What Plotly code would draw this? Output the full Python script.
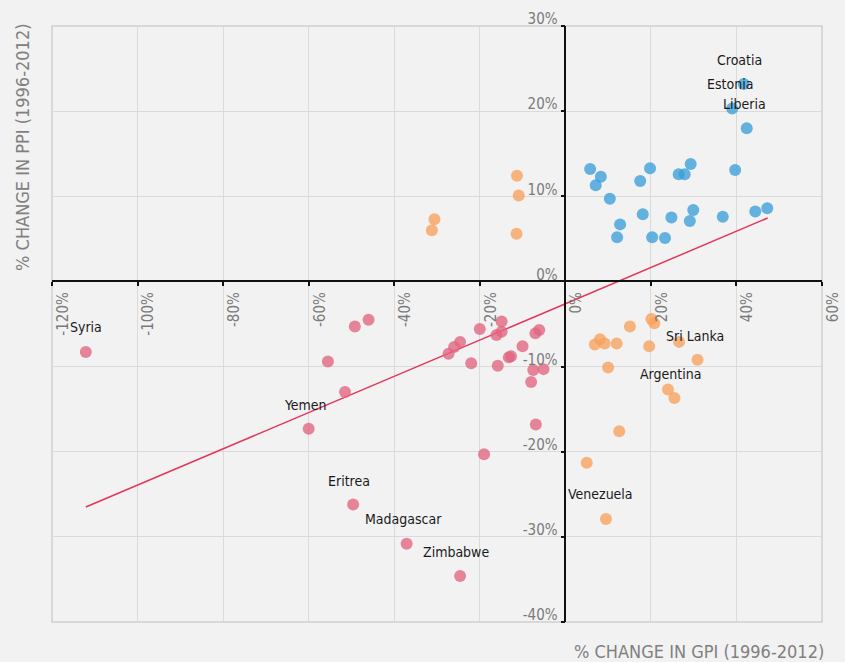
import plotly.graph_objects as go

# % change in GPI (x) vs % change in PPI (y), 1996-2012
blue_x = [41.7, 39.0, 42.4, 5.8, 8.3, 7.1, 10.4, 17.5, 19.8, 26.5, 27.9, 29.3, 39.7,
          12.8, 18.1, 24.8, 29.1, 29.9, 36.8, 44.4, 47.2, 12.1, 20.3, 23.3]
blue_y = [23.2, 20.3, 18.0, 13.2, 12.3, 11.3, 9.7, 11.8, 13.3, 12.6, 12.6, 13.8, 13.1,
          6.7, 7.9, 7.5, 7.1, 8.4, 7.6, 8.2, 8.6, 5.2, 5.2, 5.1]

orange_x = [-11.3, -10.9, -11.4, -30.6, -31.2,
            20.1, 20.8, 15.1, 8.1, 6.9, 9.2, 12.0, 19.6, 26.6, 30.9, 10.0,
            24.0, 25.5, 12.6, 5.0, 9.5]
orange_y = [12.4, 10.1, 5.6, 7.3, 6.0,
            -4.4, -4.9, -5.3, -6.8, -7.4, -7.3, -7.3, -7.6, -7.1, -9.2, -10.1,
            -12.7, -13.7, -17.6, -21.3, -27.9]

red_x = [-112.1, -49.2, -46.0, -55.5, -51.5, -60.0, -49.6, -37.1, -24.6, -19.0,
         -20.0, -24.6, -26.0, -27.3, -22.0, -14.9, -14.9, -16.1, -15.8, -10.0,
         -13.2, -12.7, -7.0, -6.1, -7.5, -5.1, -8.0, -6.9]
red_y = [-8.3, -5.3, -4.5, -9.4, -13.0, -17.3, -26.2, -30.8, -34.6, -20.3,
         -5.6, -7.1, -7.7, -8.5, -9.6, -4.7, -5.9, -6.3, -9.9, -7.6,
         -8.9, -8.8, -6.1, -5.7, -10.4, -10.3, -11.8, -16.8]

trend_x = [-112.1, 47.3]
trend_y = [-26.5, 7.45]

label_names = ["Croatia", "Estonia", "Liberia", "Sri Lanka", "Argentina", "Venezuela",
               "Yemen", "Eritrea", "Madagascar", "Zimbabwe", "Syria"]
label_x = [40.8, 38.4, 41.8, 30.4, 24.5, 8.3, -60.7, -50.5, -37.9, -25.6, -112.1]
label_y = [26.0, 23.2, 20.8, -6.4, -10.9, -25.0, -14.5, -23.4, -27.9, -31.8, -5.4]

x_ticks = [-120, -100, -80, -60, -40, -20, 0, 20, 40, 60]
x_ticktext = ["-120%", "-100%", "-80%", "-60%", "-40%", "-20%", "0%", "20%", "40%", "60%"]
y_ticks = [-40, -30, -20, -10, 0, 10, 20, 30]
y_ticktext = ["-40%", "-30%", "-20%", "-10%", "0%", "10%", "20%", "30%"]

FONT = "Liberation Sans Narrow, DejaVu Sans Condensed, sans-serif"
BG = "#f2f2f2"

fig = go.Figure()
fig.add_trace(go.Scatter(x=trend_x, y=trend_y, mode="lines",
                         line=dict(color="#e3375a", width=1.5), hoverinfo="skip"))
for xs, ys, col in [(blue_x, blue_y, "#3a9fd8"),
                    (orange_x, orange_y, "#f7a25c"),
                    (red_x, red_y, "#e26580")]:
    fig.add_trace(go.Scatter(x=xs, y=ys, mode="markers",
                             marker=dict(size=12, color=col, opacity=0.78, line=dict(width=0))))

for name, lx, ly in zip(label_names, label_x, label_y):
    fig.add_annotation(x=lx, y=ly, text=name, showarrow=False,
                       font=dict(family=FONT, size=14, color="#1a1a1a"))

fig.add_annotation(xref="paper", yref="paper", x=-0.0377, y=0.797, text="% CHANGE IN PPI (1996-2012)",
                   textangle=-90, showarrow=False, xanchor="center", yanchor="middle",
                   font=dict(family=FONT, size=18, color="#808080"))
fig.add_annotation(xref="paper", yref="paper", x=1.005, y=-0.0503, text="% CHANGE IN GPI (1996-2012)",
                   showarrow=False, xanchor="right", yanchor="middle",
                   font=dict(family=FONT, size=18, color="#808080"))

# light frame around the plot area
fig.add_shape(type="rect", xref="paper", yref="paper", x0=0, y0=0, x1=1, y1=1,
              line=dict(color="#cfcfcf", width=1.5), layer="below")

fig.update_layout(
    width=845, height=662,
    margin=dict(l=52, r=23, t=26, b=40, autoexpand=False),
    paper_bgcolor=BG, plot_bgcolor=BG,
    showlegend=False,
    font=dict(family=FONT, color="#7a7a7a"),
    xaxis=dict(range=[-120, 60], tickvals=x_ticks, ticktext=x_ticktext, tickangle=-90,
               anchor="free", position=40 / 70, showline=True, linecolor="#111111", linewidth=1.5,
               ticks="outside", ticklen=4, tickcolor="#111111", tickwidth=1.5, automargin=False,
               showgrid=True, gridcolor="#dadada", gridwidth=1, zeroline=False,
               tickfont=dict(family=FONT, size=15, color="#7a7a7a"), ticklabelshift=11),
    yaxis=dict(range=[-40, 30], tickvals=y_ticks, ticktext=y_ticktext,
               anchor="free", position=120 / 180, showline=True, linecolor="#111111", linewidth=1.5,
               ticks="outside", ticklen=4, tickcolor="#111111", tickwidth=1.5, automargin=False,
               showgrid=True, gridcolor="#dadada", gridwidth=1, zeroline=False,
               tickfont=dict(family=FONT, size=15, color="#7a7a7a"), ticklabelshift=-7),
)

fig.write_html("out.html", config={"displayModeBar": False},
               post_script="document.body.style.margin='0px';")
